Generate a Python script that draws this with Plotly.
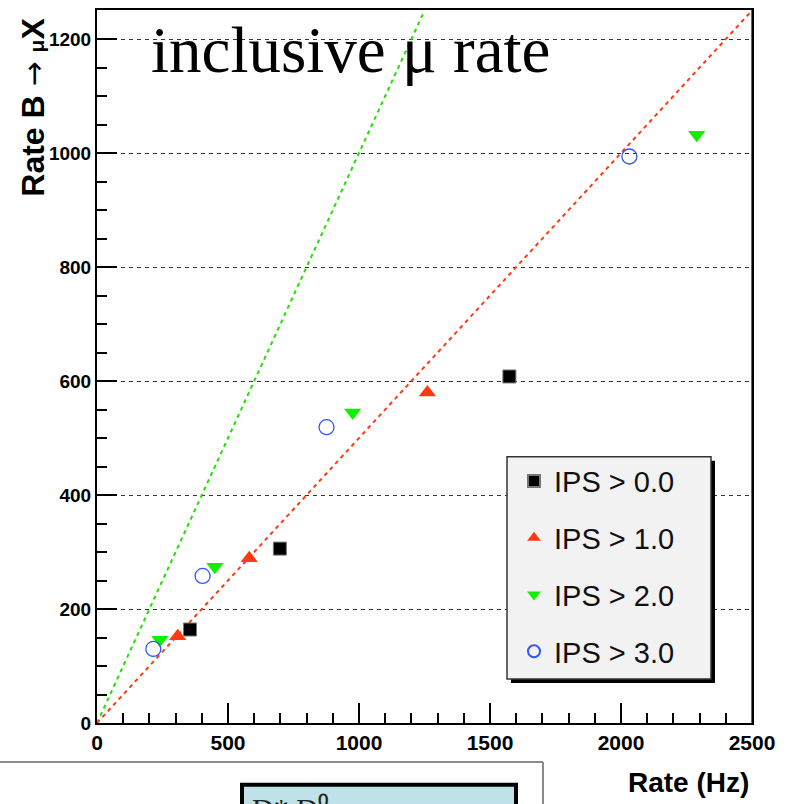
import plotly.graph_objects as go

# Measured rates: x = total rate (Hz), y = B -> mu X rate
ips0_x = [355, 698, 1574]
ips0_y = [164, 306, 608]
ips1_x = [308, 581, 1261]
ips1_y = [152, 289, 580]
ips2_x = [240, 450, 976, 2289]
ips2_y = [146, 274, 545, 1032]
ips3_x = [215, 403, 876, 2032]
ips3_y = [130, 258, 519, 994]

# reference lines (purity 1/2 and 1)
line_half_x = [0, 2500]
line_half_y = [0, 1250]
line_full_x = [0, 1250]
line_full_y = [0, 1250]

W, H = 791, 804
L, R, T, B = 97, 39, 8, 81
PW, PH = W - L - R, H - T - B


def px(x):
    return (x - L) / PW


def py(y):
    return (H - B - y) / PH


fig = go.Figure()

fig.add_trace(go.Scatter(x=line_full_x, y=line_full_y, mode="lines",
                         line=dict(color="#22e000", width=2, dash="4px,4px"),
                         showlegend=False, hoverinfo="skip"))
fig.add_trace(go.Scatter(x=line_half_x, y=line_half_y, mode="lines",
                         line=dict(color="#ff3a10", width=2, dash="4px,4px"),
                         showlegend=False, hoverinfo="skip"))

fig.add_trace(go.Scatter(x=ips0_x, y=ips0_y, mode="markers", name="IPS > 0.0",
                         legendgroup="a",
                         marker=dict(symbol="square", size=13, color="black",
                                     line=dict(color="#777", width=1))))
fig.add_trace(go.Scatter(x=ips1_x, y=ips1_y, mode="markers", name="IPS > 1.0",
                         legendgroup="b",
                         marker=dict(symbol="triangle-up", size=15, color="#ff3a10",
                                     line=dict(width=0))))
fig.add_trace(go.Scatter(x=ips2_x, y=ips2_y, mode="markers", name="IPS > 2.0",
                         legendgroup="c",
                         marker=dict(symbol="triangle-down", size=15, color="#11ee00",
                                     line=dict(width=0))))
fig.add_trace(go.Scatter(x=ips3_x, y=ips3_y, mode="markers", name="IPS > 3.0",
                         legendgroup="d",
                         marker=dict(symbol="circle-open", size=15, color="#3355ff",
                                     line=dict(width=1.3))))

axis_common = dict(showline=True, linecolor="black", linewidth=2, mirror=True,
                   ticks="inside", tickcolor="black", tickwidth=1.5, ticklen=20,
                   zeroline=False)

fig.update_xaxes(range=[0, 2500], dtick=500, tick0=0, showgrid=False,
                 tickfont=dict(family="Arial, Liberation Sans", size=21, color="black", weight="bold"),
                 minor=dict(dtick=100, ticks="inside", ticklen=10, tickcolor="black", tickwidth=1.5),
                 **axis_common)
fig.update_yaxes(range=[0, 1251], dtick=200, tick0=0, showgrid=True,
                 gridcolor="#333", griddash="4px,4px", gridwidth=1,
                 tickfont=dict(family="Arial, Liberation Sans", size=19, color="black", weight="bold"),
                 minor=dict(dtick=50, ticks="inside", ticklen=10, tickcolor="black", tickwidth=1.5),
                 **axis_common)

shapes = [
    # right frame edge
    dict(type="line", xref="x", yref="paper", x0=2500, x1=2500, y0=0, y1=1,
         line=dict(color="#ff2a00", width=2)),
    # legend box with its drop shadow
    dict(type="rect", xref="paper", yref="paper", x0=px(511), x1=px(715), y0=py(683), y1=py(460),
         fillcolor="black", line=dict(width=0), layer="above"),
    dict(type="rect", xref="paper", yref="paper", x0=px(507), x1=px(711), y0=py(679), y1=py(456),
         fillcolor="#f2f2f2", line=dict(color="#333", width=1.5), layer="above"),
    # frame of the panel below
    dict(type="line", xref="paper", yref="paper", x0=px(0), x1=px(543), y0=py(762), y1=py(762),
         line=dict(color="#8a8a8a", width=2)),
    dict(type="line", xref="paper", yref="paper", x0=px(543), x1=px(543), y0=py(762), y1=py(810),
         line=dict(color="#8a8a8a", width=2)),
    dict(type="rect", xref="paper", yref="paper", x0=px(242), x1=px(516), y0=py(812), y1=py(785),
         fillcolor="#bfe2e8", line=dict(color="black", width=4)),
]

annotations = [
    dict(text="inclusive μ rate", xref="paper", yref="paper", x=px(350), y=py(48),
         xanchor="center", yanchor="middle", showarrow=False,
         font=dict(family="Liberation Serif, Times New Roman", size=65, color="black")),
    dict(text="Rate B <span style='font-family:DejaVu Sans;font-size:30px;font-weight:normal'>→</span> "
              "<span style='font-size:21px'>μ</span>X",
         xref="paper", yref="paper",
         x=px(33), y=py(106), textangle=-90, xanchor="center", yanchor="middle", showarrow=False,
         font=dict(family="Arial, Liberation Sans", size=32, color="black", weight="bold")),
    dict(text="Rate (Hz)", xref="paper", yref="paper", x=px(688), y=py(783),
         xanchor="center", yanchor="middle", showarrow=False,
         font=dict(family="Arial, Liberation Sans", size=28, color="black", weight="bold")),
    dict(text="D* D⁰", xref="paper", yref="paper", x=px(250), y=py(790),
         xanchor="left", yanchor="top", showarrow=False,
         font=dict(family="Liberation Serif, Times New Roman", size=30, color="#222")),
]

fig.update_layout(
    width=W, height=H,
    margin=dict(l=L, r=R, t=T, b=B),
    paper_bgcolor="white", plot_bgcolor="white",
    shapes=shapes, annotations=annotations,
    showlegend=True,
    legend=dict(x=px(514), y=py(455), xanchor="left", yanchor="top",
                bgcolor="rgba(0,0,0,0)", borderwidth=0,
                font=dict(family="Arial, Liberation Sans", size=29, color="#111"),
                tracegroupgap=16, itemsizing="constant"),
)

fig.write_html("out.html")
